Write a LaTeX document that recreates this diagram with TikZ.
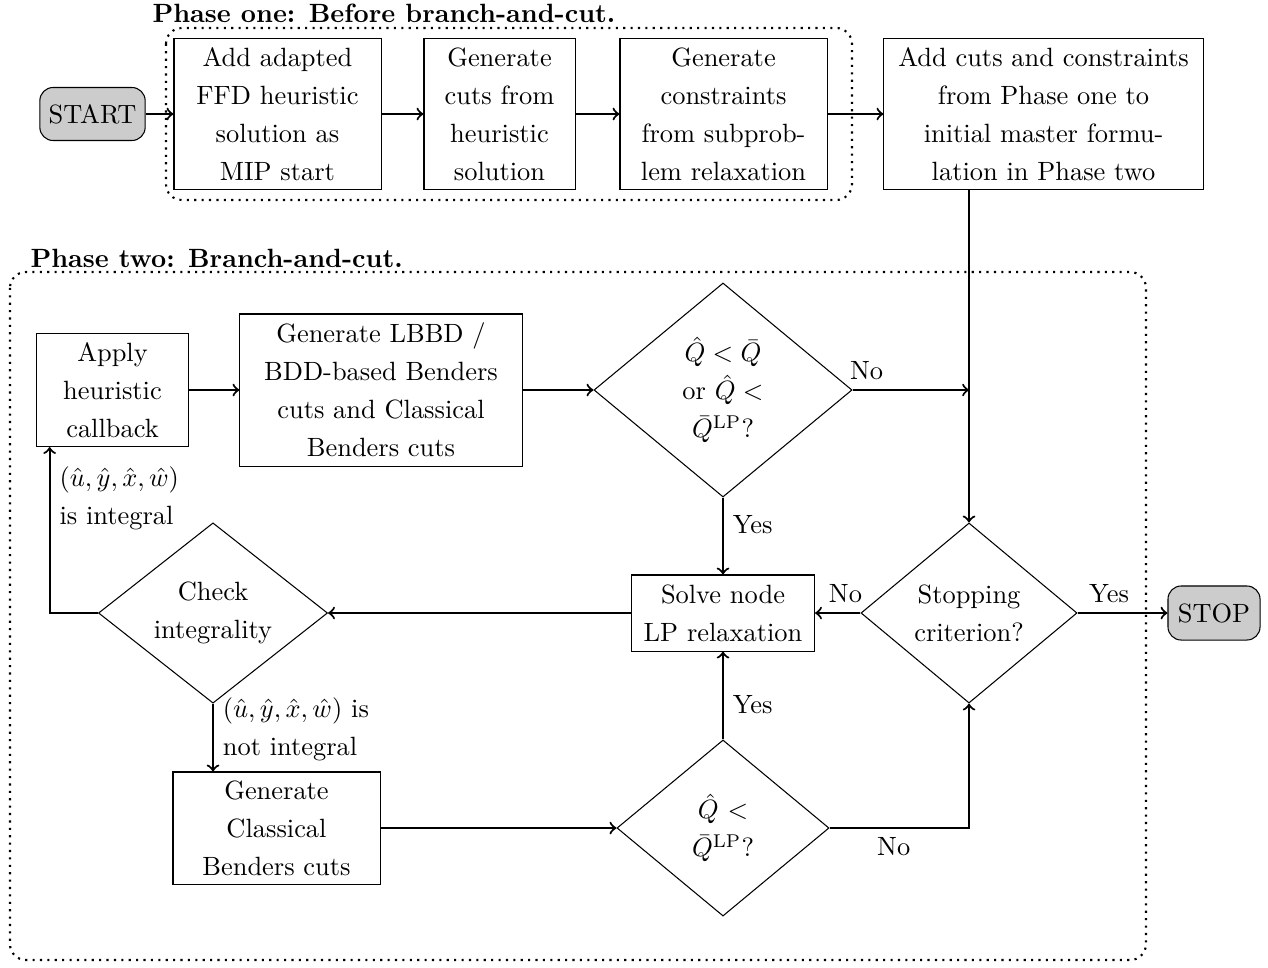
\documentclass[tikz,border=0pt]{standalone}
\usepackage{amsmath}
\usetikzlibrary{shapes.geometric,arrows,calc,positioning}
\linespread{1.2}

\begin{document}
\begin{tikzpicture}[x=0.01331cm, y=-0.01331cm]
\useasboundingbox (0,0) rectangle (1268,967);

    \tikzstyle{procbox}=[draw, thin, align=center, inner ysep=2pt];
    \tikzstyle{decision}=[draw, thin, diamond, align=center, inner sep=0pt];
    \tikzstyle{terminal}=[draw, thin, fill=black!20, rounded corners=5pt];
    \tikzstyle{flow}=[->, thick];
    \tikzstyle{phasebox}=[draw, dotted, thick, rounded corners=6pt];
    \tikzstyle{lbl}=[align=left];

% Phase one
\draw[phasebox] (166,28) rectangle (852,200);
\node[anchor=west, inner sep=0pt, font=\bfseries] (phaseone) at (152,13) {Phase one: Before branch-and-cut.};

\node[terminal, minimum width=1.398cm, minimum height=0.705cm] (start) at (92.5,114) {START};
\node[procbox, minimum width=2.755cm, minimum height=1.997cm] (ffd) at (277.5,114)
      {Add adapted\\ FFD heuristic\\ solution as\\ MIP start};
\node[procbox, minimum width=2.010cm, minimum height=1.997cm] (cuts) at (499.5,114)
      {Generate\\ cuts from\\ heuristic\\ solution};
\node[procbox, minimum width=2.755cm, minimum height=1.997cm] (cons) at (723.5,114)
      {Generate\\ constraints\\ from subprob-\\ lem relaxation};
\node[procbox, minimum width=4.246cm, minimum height=1.997cm] (master) at (1043.5,114)
      {Add cuts and constraints\\ from Phase one to\\ initial master formu-\\ lation in Phase two};

% Phase two
\draw[phasebox] (10,272) rectangle (1146,960);
\node[anchor=west, inner sep=0pt, font=\bfseries] (phasetwo) at (30,258) {Phase two: Branch-and-cut.};

\node[procbox, minimum width=2.010cm, minimum height=1.504cm] (apply) at (112.5,390)
      {Apply\\ heuristic\\ callback};
\node[procbox, minimum width=3.753cm, minimum height=2.023cm] (lbbd) at (381,390)
      {Generate LBBD /\\ BDD-based Benders\\ cuts and Classical\\ Benders cuts};
\node[decision, minimum width=3.434cm, minimum height=2.848cm] (qdia) at (723,390)
      {$\hat{Q} < \bar{Q}$\\ or $\hat{Q} <$\\ $\bar{Q}^{\mathrm{LP}}$?};
\node[procbox, minimum width=2.436cm, minimum height=1.012cm] (solve) at (723,613)
      {Solve node\\ LP relaxation};
\node[decision, minimum width=2.875cm, minimum height=2.396cm] (stopcrit) at (969,613)
      {Stopping\\ criterion?};
\node[terminal, minimum width=1.225cm, minimum height=0.719cm] (stop) at (1214,613) {STOP};
\node[decision, minimum width=3.048cm, minimum height=2.276cm] (check) at (213,613)
      {Check\\ integrality};
\node[procbox, minimum width=2.755cm, minimum height=1.491cm] (classical) at (276.5,828)
      {Generate\\ Classical\\ Benders cuts};
\node[decision, minimum width=2.822cm, minimum height=2.343cm] (lpdia) at (723,828)
      {$\hat{Q}$ $<$\\ $\bar{Q}^{\mathrm{LP}}$?};

% connectors
\draw[flow] (start) -- (ffd);
\draw[flow] (ffd) -- (cuts);
\draw[flow] (cuts) -- (cons);
\draw[flow] (cons) -- (master);
\draw[flow] (master.south -| stopcrit.north) -- (stopcrit.north);
\draw[flow] (apply) -- (lbbd);
\draw[flow] (lbbd) -- (qdia);
\draw[flow] (qdia.east) -- node[pos=0.12, above] (qno) {No} (qdia.east -| stopcrit.north);
\draw[flow] (qdia.south) -- node[pos=0.35, right] (qyes) {Yes} (solve.north);
\draw[flow] (stopcrit.west) -- node[pos=0.33, above] (stopno) {No} (solve.east);
\draw[flow] (stopcrit.east) -- node[pos=0.35, above] (stopyes) {Yes} (stop.west);
\draw[flow] (solve.west) -- (check.east);
\draw[flow] (check.west) -| node[lbl, pos=0.845, right] (intyes)
      {$(\hat{u}, \hat{y}, \hat{x}, \hat{w})$\\ is integral} ([xshift=5pt]apply.south west);
\draw[flow] (check.south) -- node[lbl, pos=0.38, right] (intno)
      {$(\hat{u}, \hat{y}, \hat{x}, \hat{w})$ is\\ not integral} (check.south |- classical.north);
\draw[flow] (classical.east) -- (lpdia.west);
\draw[flow] (lpdia.north) -- node[pos=0.4, right] (lpyes) {Yes} (solve.south);
\draw[flow] (lpdia.east) -| node[pos=0.23, below] (lpno) {No} (stopcrit.south);
\end{tikzpicture}
\end{document}
